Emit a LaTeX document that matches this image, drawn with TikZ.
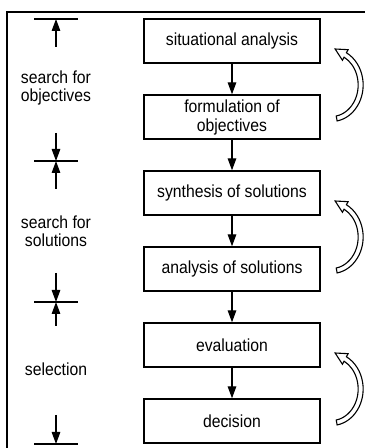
\documentclass[tikz,border=0pt]{standalone}
\usepackage{fontspec}
\setmainfont[FakeStretch=0.9]{Liberation Sans}
\usetikzlibrary{arrows.meta,calc}

\begin{document}
\begin{tikzpicture}[x=1pt,y=1pt,
  stepbox/.style={draw, line width=1.3pt, minimum width=176pt, minimum height=44pt,
                  inner sep=0pt, align=center, font=\fontsize{17.5}{19}\selectfont},
  flow/.style={line width=1.3pt, -{Triangle[length=12pt,width=8.5pt]}},
  phase/.style={align=center, font=\fontsize{17.5}{18.5}\selectfont},
  bar/.style={line width=1.3pt},
  loop/.style={draw, line width=1.1pt, fill=white}]
\useasboundingbox (0,0) rectangle (365,448);

% open frame: left and top sides
\draw[line width=1.3pt] (7,0) -- (7,436) -- (365,436);

% process steps
\node[stepbox] (b1) at (232,407) {situational analysis};
\node[stepbox] (b2) at (232,331) {formulation of\\objectives};
\node[stepbox] (b3) at (232,255) {synthesis of solutions};
\node[stepbox] (b4) at (232,179) {analysis of solutions};
\node[stepbox] (b5) at (232,103) {evaluation};
\node[stepbox] (b6) at (232,27)  {decision};

\foreach \a/\b in {b1/b2,b2/b3,b3/b4,b4/b5,b5/b6}
  \draw[flow] (\a.south) -- (\b.north);

% phase limits on the left
\coordinate (m1) at (56,429);
\coordinate (m2) at (56,287);
\coordinate (m3) at (56,146);
\coordinate (m4) at (56,4);
\foreach \m in {m1,m2,m3,m4}
  \draw[bar] ($(\m)+(-22,0)$) -- ($(\m)+(22,0)$);

\coordinate (t1) at (56,401);
\coordinate (t2) at (56,315);
\coordinate (t3) at (56,259);
\coordinate (t4) at (56,175);
\coordinate (t5) at (56,122);
\coordinate (t6) at (56,33);
\draw[flow] (t1) -- (m1);
\draw[flow] (t2) -- (m2);
\draw[flow] (t3) -- (m2);
\draw[flow] (t4) -- (m3);
\draw[flow] (t5) -- (m3);
\draw[flow] (t6) -- (m4);

\node[phase] (p1) at (56,360) {search for\\objectives};
\node[phase] (p2) at (56,217) {search for\\solutions};
\node[phase] (p3) at (56,79)  {selection};

% hollow feedback arrows
\foreach \a/\b in {b1/b2,b3/b4,b5/b6} {
  \coordinate (c) at ($(\a.east)!0.5!(\b.east)+(11,-6)$);
  \draw[loop] ([shift={(c)}]-80:31.5 and 36.5)
      arc[start angle=-80,end angle=62,x radius=31.5,y radius=36.5]
      -- ([shift={(c)}]62:35 and 40)
      -- ($(c)+(3.5,36)$)
      -- ([shift={(c)}]62:23 and 28)
      -- ([shift={(c)}]62:26.5 and 31.5)
      arc[start angle=62,end angle=-80,x radius=26.5,y radius=31.5]
      -- cycle;
}
\end{tikzpicture}
\end{document}
